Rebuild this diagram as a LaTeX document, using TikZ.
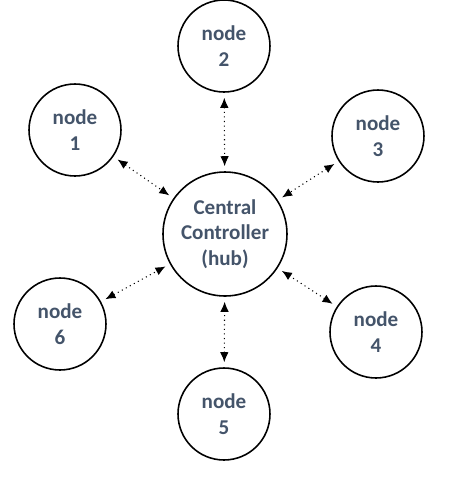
\documentclass[tikz,border=0pt]{standalone}
\usepackage{fontspec}
\setmainfont{Carlito}
\usetikzlibrary{arrows.meta}
\definecolor{slate}{HTML}{44546A}

\begin{document}
\begin{tikzpicture}[x=0.02cm, y=-0.02cm,
  hubnode/.style={circle, draw, line width=0.9pt, minimum size=2.48cm, inner sep=0pt,
    align=center, text=slate, font=\bfseries\fontsize{12}{14.5}\selectfont},
  leaf/.style={circle, draw, line width=0.9pt, minimum size=1.84cm, inner sep=0pt,
    align=center, text=slate, font=\bfseries\fontsize{12}{14.5}\selectfont},
  link/.style={dotted, line width=0.6pt, {Latex[length=2mm,width=1.7mm]}-{Latex[length=2mm,width=1.7mm]},
    shorten <=0.1cm, shorten >=0.1cm}]
  \useasboundingbox (0,0) rectangle (453,478);
  \node[hubnode] (hub) at (225,234) {Central\\Controller\\(hub)};
  \node[leaf] (n1) at (75,130) {node\\1};
  \node[leaf] (n2) at (224,46) {node\\2};
  \node[leaf] (n3) at (378,136) {node\\3};
  \node[leaf] (n4) at (376,332) {node\\4};
  \node[leaf] (n5) at (224,414) {node\\5};
  \node[leaf] (n6) at (60,324) {node\\6};
  \draw[link] (n1) -- (hub);
  \draw[link] (n2) -- (hub);
  \draw[link] (n3) -- (hub);
  \draw[link] (n4) -- (hub);
  \draw[link] (n5) -- (hub);
  \draw[link] (n6) -- (hub);
\end{tikzpicture}
\end{document}
